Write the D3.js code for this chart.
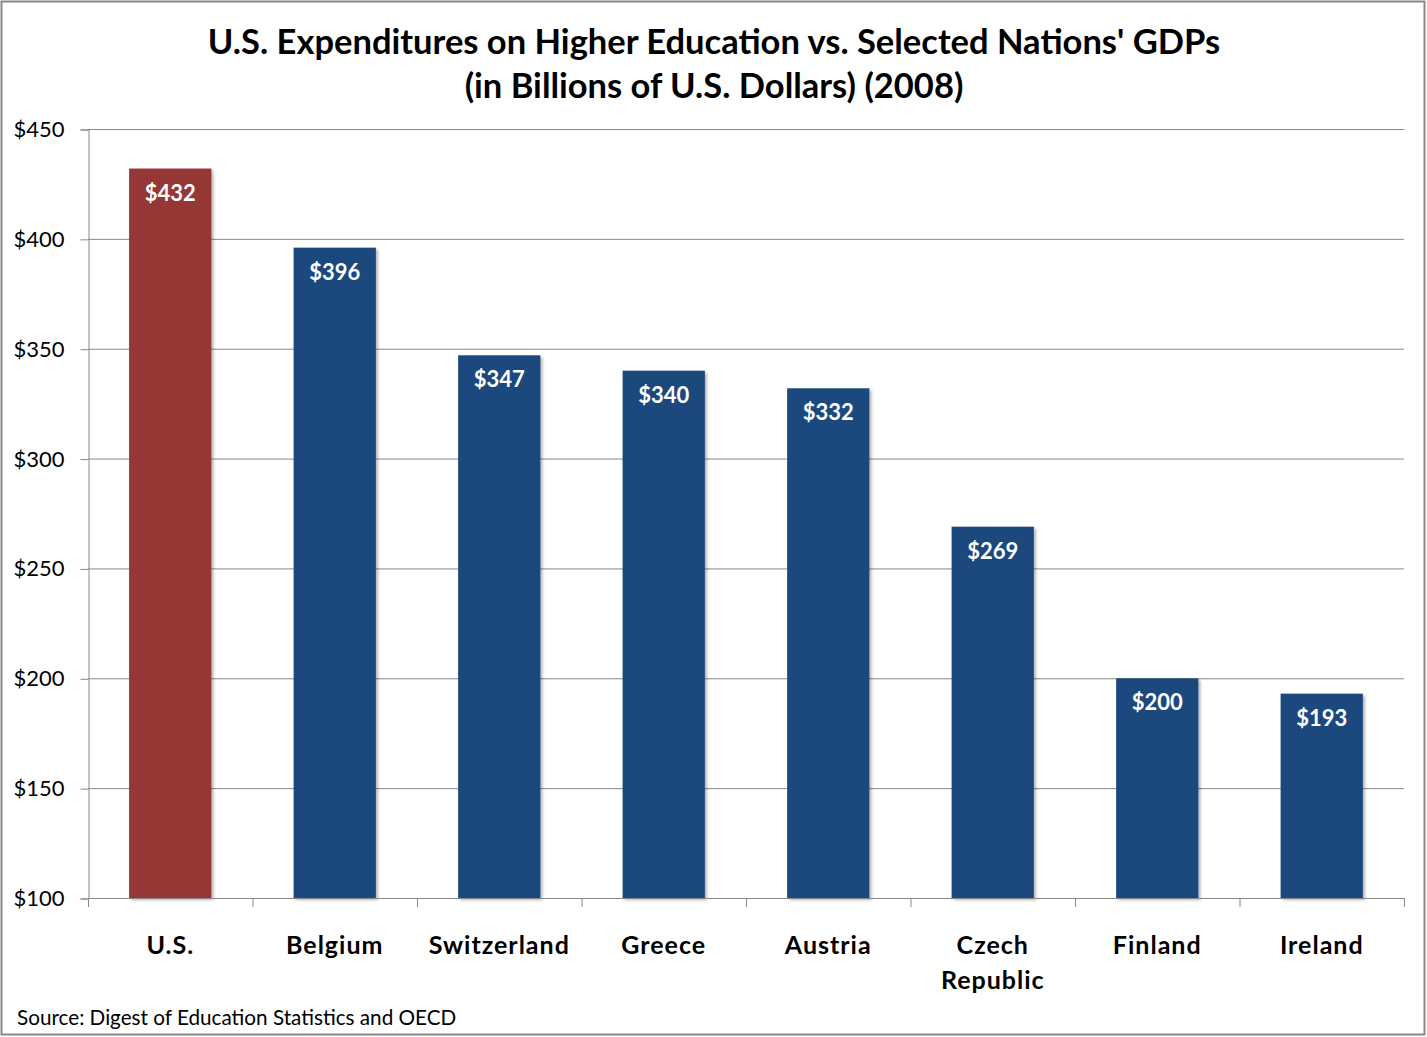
<!DOCTYPE html>
<html>
<head>
<meta charset="utf-8">
<script src="https://cdn.jsdelivr.net/npm/d3@7"></script>
<style>
  body { margin: 0; background: #fff; }
  text { font-family: Lato, "Open Sans", sans-serif; }
</style>
</head>
<body>
<script>
// Higher ed spending vs GDPs

var w = 1427;
var h = 1037;

// data
var countries = ["U.S.", "Belgium", "Switzerland", "Greece", "Austria", "Czech Republic", "Finland", "Ireland"];
var values = [432, 396, 347, 340, 332, 269, 200, 193];
var yTicks = [100, 150, 200, 250, 300, 350, 400, 450];
var titleLines = ["U.S. Expenditures on Higher Education vs. Selected Nations' GDPs", "(in Billions of U.S. Dollars) (2008)"];

var margin = { left: 88, right: 23, top: 129, bottom: 139 };

var svg = d3.select("body")
	.append("svg")
	.attr("width", w)
	.attr("height", h);

// shadow for bars
var defs = svg.append("defs");
var f = defs.append("filter").attr("id", "shadow").attr("x", "-10%").attr("y", "-10%").attr("width", "130%").attr("height", "130%");
f.append("feDropShadow").attr("dx", 2).attr("dy", 2).attr("stdDeviation", 1.5)
	.attr("flood-color", "#000").attr("flood-opacity", 0.3);

// frame
svg.append("rect")
	.attr("x", 1.5).attr("y", 1.5)
	.attr("width", 1423).attr("height", 1033)
	.attr("fill", "#fff")
	.attr("stroke", "#888").attr("stroke-width", 2);

var x = d3.scaleBand()
	.domain(countries)
	.range([margin.left, w - margin.right])
	.paddingInner(0.5)
	.paddingOuter(0.25);

var y = d3.scaleLinear()
	.domain([100, 450])
	.range([h - margin.bottom, margin.top]);

// gridlines
svg.append("g")
	.selectAll("line")
	.data(yTicks.slice(1))
	.enter()
	.append("line")
	.attr("x1", margin.left)
	.attr("x2", w - margin.right)
	.attr("y1", function(d) { return y(d) + 0.5; })
	.attr("y2", function(d) { return y(d) + 0.5; })
	.attr("stroke", "#888")
	.attr("stroke-width", 1);

// y axis
var yAxis = svg.append("g")
	.attr("transform", "translate(" + (margin.left + 0.5) + ",0.5)")
	.call(d3.axisLeft(y).tickValues(yTicks).tickSize(8).tickPadding(16)
		.tickFormat(function(d) { return "$" + d; }));
yAxis.select(".domain").attr("stroke", "#888");
yAxis.selectAll(".tick line").attr("stroke", "#888");
yAxis.selectAll(".tick text")
	.attr("font-size", "22px")
	.attr("font-family", "Lato, sans-serif")
	.attr("fill", "#000");

// bars
svg.append("g")
	.selectAll("rect")
	.data(values)
	.enter()
	.append("rect")
	.attr("x", function(d, i) { return x(countries[i]); })
	.attr("y", function(d) { return y(d); })
	.attr("width", x.bandwidth())
	.attr("height", function(d) { return y(100) - y(d); })
	.attr("fill", function(d, i) { return i == 0 ? "#953735" : "#1F497D"; })
	.attr("filter", "url(#shadow)");

// value labels
svg.append("g")
	.selectAll("text")
	.data(values)
	.enter()
	.append("text")
	.text(function(d) { return "$" + d; })
	.attr("x", function(d, i) { return x(countries[i]) + x.bandwidth() / 2; })
	.attr("y", function(d) { return y(d) + 32; })
	.attr("text-anchor", "middle")
	.attr("font-size", "22px")
	.attr("font-weight", "bold")
	.attr("fill", "#fff");

// x axis
var step = x.step();
var xLine = svg.append("g");
xLine.append("line")
	.attr("x1", margin.left).attr("x2", w - margin.right)
	.attr("y1", y(100) + 0.5).attr("y2", y(100) + 0.5)
	.attr("stroke", "#888");
xLine.selectAll(".tk")
	.data(d3.range(countries.length + 1))
	.enter()
	.append("line")
	.attr("x1", function(i) { return margin.left + 0.5 + i * step; })
	.attr("x2", function(i) { return margin.left + 0.5 + i * step; })
	.attr("y1", y(100))
	.attr("y2", y(100) + 9)
	.attr("stroke", "#888");

// category labels (wrap two-word long names)
svg.append("g")
	.selectAll("text")
	.data(countries)
	.enter()
	.append("text")
	.attr("x", function(d) { return x(d) + x.bandwidth() / 2; })
	.attr("y", y(100) + 56)
	.attr("text-anchor", "middle")
	.attr("font-size", "25px")
	.attr("letter-spacing", "1px")
	.attr("font-weight", "bold")
	.attr("fill", "#000")
	.each(function(d) {
		var parts = d == "Czech Republic" ? ["Czech", "Republic"] : [d];
		var t = d3.select(this);
		parts.forEach(function(p, k) {
			t.append("tspan")
				.attr("x", t.attr("x"))
				.attr("dy", k == 0 ? 0 : 35)
				.text(p);
		});
	});

// title
svg.append("g")
	.selectAll("text")
	.data(titleLines)
	.enter()
	.append("text")
	.text(function(d) { return d; })
	.attr("x", 714)
	.attr("y", function(d, i) { return 54 + i * 44; })
	.attr("text-anchor", "middle")
	.attr("font-size", "34.5px")
	.attr("font-weight", "bold")
	.attr("fill", "#000");

// source
svg.append("text")
	.text("Source: Digest of Education Statistics and OECD")
	.attr("x", 17)
	.attr("y", 1025)
	.attr("font-size", "20.7px")
	.attr("fill", "#000");
</script>
</body>
</html>
